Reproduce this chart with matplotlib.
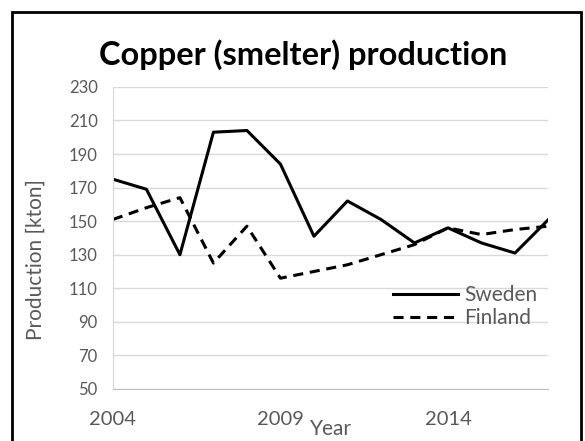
import matplotlib.pyplot as plt
from matplotlib.patches import Rectangle

# Copper smelter production, kton
years = list(range(2004, 2018))
sweden = [175, 169, 130, 203, 204, 184, 141, 162, 151, 137, 146, 137, 131, 151]
finland = [151, 158, 164, 125, 147, 116, 120, 124, 130, 136, 146, 142, 145, 147]
xticks = [2004, 2009, 2014]
yticks = list(range(50, 231, 20))

plt.rcParams['font.family'] = ['Lato', 'DejaVu Sans']
grey = '#595959'

fig = plt.figure(figsize=(5.85, 4.41), dpi=100)
ax = fig.add_axes([0.193, 0.118, 0.7446, 0.685])

ax.plot(years, sweden, color='black', lw=2.2, label='Sweden')
ax.plot(years, finland, color='black', lw=2.2, dashes=(3.3, 2.2), label='Finland')

ax.set_xlim(2004, 2017)
ax.set_ylim(50, 230)
ax.set_xticks(xticks)
ax.set_yticks(yticks)
ax.tick_params(axis='x', length=0, pad=16, labelsize=14.5, labelcolor=grey)
ax.tick_params(axis='y', length=0, pad=11, labelsize=12, labelcolor=grey)

# horizontal gridlines only
ax.grid(axis='y', color='#d9d9d9', lw=1)
ax.set_axisbelow(True)
for s in ['top', 'right']:
    ax.spines[s].set_visible(False)
ax.spines['left'].set_color('#d9d9d9')
ax.spines['bottom'].set_color('#bfbfbf')

ax.set_xlabel('Year', fontsize=15, color=grey)
ax.xaxis.set_label_coords(0.5, -0.1)
ax.set_ylabel('Production [kton]', fontsize=15, color=grey)
ax.yaxis.set_label_coords(-0.155, 0.43)

leg = ax.legend(loc='center left', bbox_to_anchor=(0.643, 0.272), frameon=False,
                fontsize=15, handlelength=3.1, handletextpad=0.3,
                labelspacing=0.15, borderaxespad=0, borderpad=0)
for t in leg.get_texts():
    t.set_color(grey)

fig.text(0.519, 0.877, 'Copper (smelter) production', ha='center', va='center',
         fontsize=23.4, fontweight='bold')

# black frame around the chart
fig.patches.append(Rectangle((0.0205, -0.05), 0.972, 1.023, transform=fig.transFigure,
                             fill=False, edgecolor='black', lw=2))

fig.savefig('out.png', dpi=100)
